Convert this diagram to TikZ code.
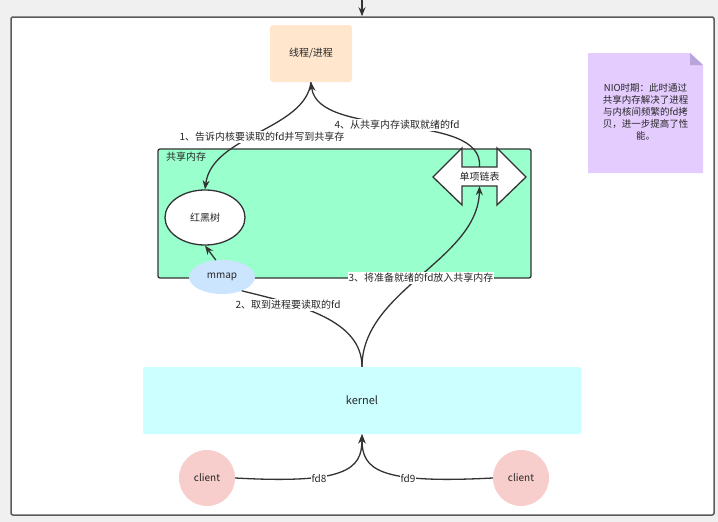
\documentclass[tikz,border=0pt]{standalone}
\usepackage{fontspec}
\setmainfont{Noto Sans CJK SC}
\usetikzlibrary{shapes.geometric,arrows.meta,positioning}
\definecolor{procPeach}{HTML}{FFE6CC}
\definecolor{shmGreen}{HTML}{99FFCC}
\definecolor{mmapBlue}{HTML}{CCE5FF}
\definecolor{kernelCyan}{HTML}{CCFFFF}
\definecolor{clientPink}{HTML}{F8CECC}
\definecolor{notePurple}{HTML}{E5CCFF}
\definecolor{noteFold}{HTML}{B9A3DB}
\definecolor{lineGray}{HTML}{333333}
\definecolor{frameGray}{HTML}{5A5A5A}
\definecolor{pageGray}{HTML}{F0F0F0}

\begin{document}
\begin{tikzpicture}[
  x=1pt, y=-1pt,
  every node/.style={font=\fontsize{10}{12}\selectfont, text=black!85},
  proc/.style={fill=procPeach, rounded corners=3pt, minimum width=82, minimum height=57},
  region/.style={draw=lineGray, line width=1.3pt, fill=shmGreen, rounded corners=2pt,
                 minimum width=373, minimum height=129},
  tree/.style={ellipse, draw=lineGray, line width=1.3pt, fill=white,
               minimum width=80, minimum height=55},
  blob/.style={ellipse, fill=mmapBlue, minimum width=66, minimum height=34},
  kern/.style={fill=kernelCyan, rounded corners=2pt, minimum width=438, minimum height=67},
  client/.style={circle, fill=clientPink, minimum size=56, inner sep=0pt},
  flow/.style={draw=lineGray, line width=1.3pt, -{Stealth[length=9pt,width=7pt]}},
  plain/.style={draw=lineGray, line width=1.3pt},
  lbl/.style={fill=white, inner sep=1pt},
]
\useasboundingbox (0,0) rectangle (718,522);
\fill[pageGray] (0,0) rectangle (718,522);

% Frame
\node[draw=frameGray, line width=1.5pt, fill=white, rounded corners=2pt,
      minimum width=703, minimum height=498, inner sep=0pt] (frame) at (362.5,266) {};
\coordinate (top) at (362,0);
\draw[flow] (top) -- (frame.north -| top);

% Process
\node[proc] (proc) at (311,53.5) {线程/进程};

% Shared memory
\node[region] (shm) at (344.5,213.5) {};
\node[anchor=west, inner sep=0pt] (shmlbl) at (166,157) {共享内存};
\node[tree] (rbt) at (205,217.5) {红黑树};
\draw[plain, fill=white] (433,177) -- (462,148) -- (462,167) -- (497,167) -- (497,148)
  -- (526,177) -- (497,205) -- (497,186) -- (462,186) -- (462,205) -- cycle;
\node[minimum width=35, minimum height=19, inner sep=0pt] (list) at (479.5,176.5) {单项链表};
\node[blob] (mmap) at (222,277) {mmap};

% Kernel and clients
\node[kern, font=\fontsize{11}{13}\selectfont] (kernel) at (362,400.5) {kernel};
\node[client] (c1) at (207,478) {client};
\node[client] (c2) at (521,478) {client};

% Note
\fill[notePurple] (588,53) -- (690,53) -- (703,65) -- (703,173) -- (588,173) -- cycle;
\fill[noteFold] (690,53) -- (703,65) -- (690,65) -- cycle;
\node[align=center, font=\fontsize{9.5}{12}\selectfont] (note) at (645.5,112)
  {NIO时期：此时通过\\共享内存解决了进程\\与内核间频繁的fd拷\\贝，进一步提高了性\\能。};

% Edges
\draw[flow] (proc.south) .. controls (305,130) and (212,135) .. (rbt.north);
\draw[flow] (list.north) .. controls (484,110) and (318,140) .. (proc.south);
\draw[flow] (mmap.110) -- (rbt.south);
\draw[plain] (mmap.-35) .. controls (300,305) and (362,320) .. (kernel.north);
\draw[flow] (kernel.north) .. controls (362,290) and (478,260) .. (list.south);
\draw[flow] (c1.east) .. controls (345,484) and (362,470) .. (kernel.south);
\draw[flow] (c2.west) .. controls (379,484) and (362,470) .. (kernel.south);

% Edge labels
\node[lbl] (l1) at (262,137) {1、告诉内核要读取的fd并写到共享存};
\node[lbl] (l4) at (397,125) {4、从共享内存读取就绪的fd};
\node[lbl] (l2) at (288,305) {2、取到进程要读取的fd};
\node[lbl] (l3) at (421,278) {3、将准备就绪的fd放入共享内存};
\node[lbl] (l8) at (319,479) {fd8};
\node[lbl] (l9) at (408,479) {fd9};

\end{tikzpicture}
\end{document}
